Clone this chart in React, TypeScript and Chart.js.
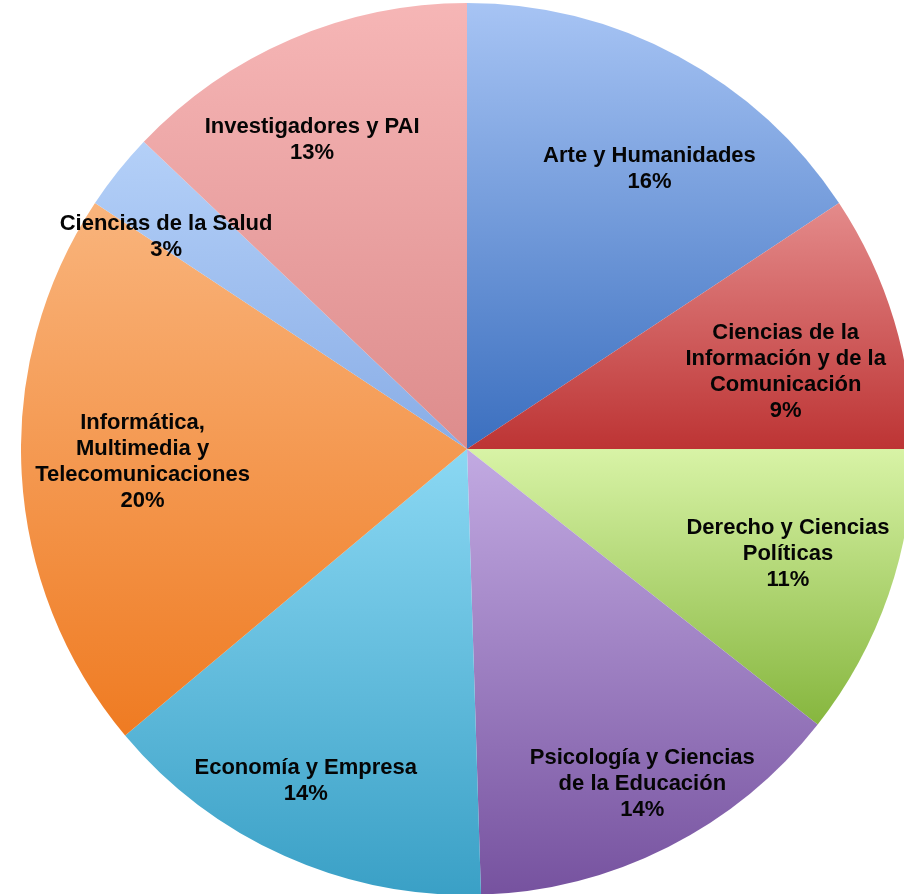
import React, { useEffect, useRef } from "react";
import { Chart, registerables } from "chart.js";

Chart.register(...registerables);

const categories = [
  "Arte y Humanidades",
  "Ciencias de la Información y de la Comunicación",
  "Derecho y Ciencias Políticas",
  "Psicología y Ciencias de la Educación",
  "Economía y Empresa",
  "Informática, Multimedia y Telecomunicaciones",
  "Ciencias de la Salud",
  "Investigadores y PAI",
];

const labelLines = [
  ["Arte y Humanidades"],
  ["Ciencias de la", "Información y de la", "Comunicación"],
  ["Derecho y Ciencias", "Políticas"],
  ["Psicología y Ciencias", "de la Educación"],
  ["Economía y Empresa"],
  ["Informática,", "Multimedia y", "Telecomunicaciones"],
  ["Ciencias de la Salud"],
  ["Investigadores y PAI"],
];

const values = [15.7, 9.3, 10.6, 13.9, 14.4, 20.4, 2.8, 12.9];

const gradientTop = ["#a7c4f4", "#e48b8b", "#d8f3a6", "#c2aae2", "#8bd8f3", "#f9b47c", "#b4d0f8", "#f6b6b6"];
const gradientBottom = ["#3b6fbf", "#bd3434", "#86b63e", "#76529f", "#3aa0c6", "#ef7b22", "#89ade6", "#dd8c8c"];

// label placement: radius fraction and angle offset (degrees) from slice mid-angle
const labelRadius = [0.75, 0.735, 0.757, 0.848, 0.827, 0.728, 0.826, 0.775];
const labelAngleShift = [4.8, 3.2, -1.0, -0.8, 1.8, 1.0, -3.3, -3.4];

function includesAngle(a: number, s: number, e: number) {
  for (let k = -2; k <= 2; k++) {
    const t = a + 2 * Math.PI * k;
    if (t >= s && t <= e) return true;
  }
  return false;
}

const gradientPlugin = {
  id: "sliceGradients",
  beforeDatasetsDraw(chart: any) {
    const ctx = chart.ctx;
    const meta = chart.getDatasetMeta(0);
    meta.data.forEach((arc: any, i: number) => {
      const { x, y, startAngle, endAngle, outerRadius } = arc;
      const ys = [y, y + outerRadius * Math.sin(startAngle), y + outerRadius * Math.sin(endAngle)];
      if (includesAngle(Math.PI / 2, startAngle, endAngle)) ys.push(y + outerRadius);
      if (includesAngle(-Math.PI / 2, startAngle, endAngle)) ys.push(y - outerRadius);
      const minY = Math.min(...ys);
      const maxY = Math.max(...ys);
      const g = ctx.createLinearGradient(0, minY, 0, maxY);
      g.addColorStop(0, gradientTop[i]);
      g.addColorStop(1, gradientBottom[i]);
      arc.options.backgroundColor = g;
    });
  },
};

const labelPlugin = {
  id: "sliceLabels",
  afterDatasetsDraw(chart: any) {
    const ctx = chart.ctx;
    const meta = chart.getDatasetMeta(0);
    const total = values.reduce((a, b) => a + b, 0);
    ctx.save();
    ctx.font = "bold 22px 'Liberation Sans', Arial, sans-serif";
    ctx.fillStyle = "#050505";
    ctx.textAlign = "center";
    ctx.textBaseline = "middle";
    const lh = 26;
    meta.data.forEach((arc: any, i: number) => {
      const { x, y, startAngle, endAngle, outerRadius } = arc;
      const mid = (startAngle + endAngle) / 2 + (labelAngleShift[i] * Math.PI) / 180;
      const r = outerRadius * labelRadius[i];
      const cx = x + r * Math.cos(mid);
      const cy = y + r * Math.sin(mid);
      const lines = [...labelLines[i], Math.round((values[i] / total) * 100) + "%"];
      const n = lines.length;
      lines.forEach((t, j) => {
        ctx.fillText(t, cx, cy + (j - (n - 1) / 2) * lh);
      });
    });
    ctx.restore();
  },
};

export default function App() {
  const ref = useRef<HTMLCanvasElement>(null);
  useEffect(() => {
    if (!ref.current) return;
    const chart = new Chart(ref.current, {
      type: "pie",
      data: {
        labels: categories,
        datasets: [
          {
            data: values,
            backgroundColor: gradientTop,
            borderWidth: 0,
            hoverOffset: 0,
          },
        ],
      },
      options: {
        responsive: false,
        animation: false,
        layout: { padding: 0 },
        plugins: {
          legend: { display: false },
          tooltip: { enabled: false },
        },
        events: [],
      },
      plugins: [gradientPlugin, labelPlugin],
    });
    return () => chart.destroy();
  }, []);
  return (
    <div
      style={{
        position: "fixed",
        left: 0,
        top: 0,
        width: 904,
        height: 894,
        overflow: "hidden",
        background: "#ffffff",
      }}
    >
      <div style={{ position: "absolute", left: 21, top: 3, width: 892, height: 892 }}>
        <canvas ref={ref} width={892} height={892} style={{ width: 892, height: 892 }} />
      </div>
    </div>
  );
}
